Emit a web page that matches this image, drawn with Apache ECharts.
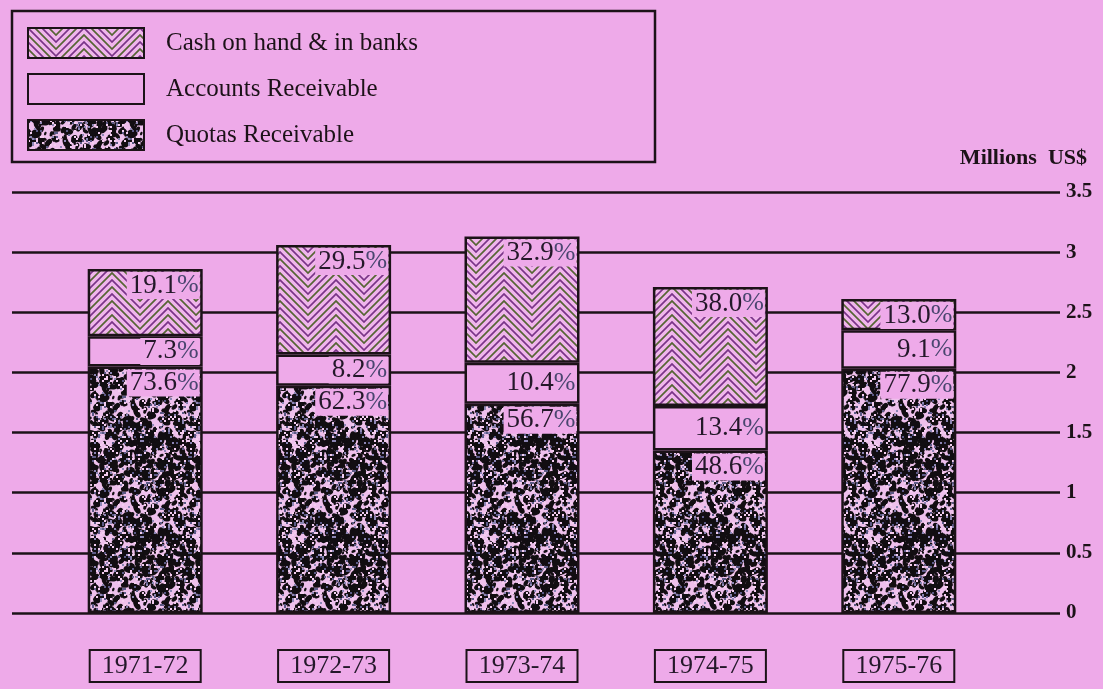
<!DOCTYPE html>
<html>
<head>
<meta charset="utf-8">
<script src="https://cdn.jsdelivr.net/npm/echarts@6/dist/echarts.min.js"></script>
<style>
html, body { margin: 0; padding: 0; background: #eeaae9; }
#chart { width: 1103px; height: 689px; }
</style>
</head>
<body>
<div id="chart"></div>
<script>
var years = ['1971-72', '1972-73', '1973-74', '1974-75', '1975-76'];
// millions US$
var quotas = [2.05, 1.89, 1.74, 1.35, 2.03];
var accounts = [0.25, 0.26, 0.34, 0.37, 0.32];
var cash = [0.56, 0.91, 1.05, 0.99, 0.26];
// printed percentages
var quotasPct = ['73.6', '62.3', '56.7', '48.6', '77.9'];
var accountsPct = ['7.3', '8.2', '10.4', '13.4', '9.1'];
var cashPct = ['19.1', '29.5', '32.9', '38.0', '13.0'];
var yTicks = [0, 0.5, 1, 1.5, 2, 2.5, 3, 3.5];

var pink = '#eeaae9';
var ink = '#1c1218';

function zigzagPattern() {
    var c = document.createElement('canvas');
    var w = 56, step = 7;
    c.width = w;
    c.height = step * 2;
    var ctx = c.getContext('2d');
    ctx.fillStyle = '#f0b6ec';
    ctx.fillRect(0, 0, c.width, c.height);
    ctx.lineWidth = 1.7;
    for (var k = -10; k <= 4; k++) {
        var y0 = k * step;
        ctx.strokeStyle = (k % 2 === 0) ? '#7a3488' : '#566534';
        ctx.beginPath();
        ctx.moveTo(-1, y0 - 1);
        ctx.lineTo(w / 2, y0 + w / 2);
        ctx.lineTo(w + 1, y0 - 1);
        ctx.stroke();
    }
    return { image: c, repeat: 'repeat' };
}

function speckPattern() {
    var c = document.createElement('canvas');
    c.width = 96;
    c.height = 96;
    var ctx = c.getContext('2d');
    ctx.fillStyle = '#eec0ec';
    ctx.fillRect(0, 0, 96, 96);
    var seed = 4242;
    function rnd() {
        seed = (seed * 1103515245 + 12345) % 2147483648;
        return seed / 2147483648;
    }
    var i, x, y;
    for (i = 0; i < 520; i++) {
        x = rnd() * 96;
        y = rnd() * 96;
        var r = 1.2 + rnd() * 2.6;
        ctx.fillStyle = '#120e12';
        for (var dx = -96; dx <= 96; dx += 96) {
            for (var dy = -96; dy <= 96; dy += 96) {
                ctx.beginPath();
                ctx.ellipse(x + dx, y + dy, r * 1.3, r * 0.8, rnd() * 3, 0, Math.PI * 2);
                ctx.fill();
            }
        }
    }
    for (i = 0; i < 420; i++) {
        x = Math.floor(rnd() * 48) * 2;
        y = Math.floor(rnd() * 48) * 2;
        var t = rnd();
        ctx.fillStyle = t < 0.45 ? '#f3cdf0' : (t < 0.75 ? '#8c86b4' : '#5c5a86');
        ctx.fillRect(x, y, 2, 2);
    }
    return { image: c, repeat: 'repeat' };
}

var labelRich = {
    n: { fontFamily: 'Liberation Serif', fontSize: 27, color: '#24182a' },
    p: { fontFamily: 'Liberation Serif', fontSize: 26, color: '#4a4670' }
};

function pctLabel(list, pos) {
    return {
        show: true,
        position: pos,
        distance: 3,
        backgroundColor: pink,
        padding: [0, 1, 0, 3],
        formatter: function (p) {
            return '{n|' + list[p.dataIndex] + '}{p|%}';
        },
        rich: labelRich
    };
}

var echart = echarts.init(document.getElementById('chart'));

var option = {
    backgroundColor: pink,
    animation: false,
    title: {
        text: 'Millions  US$',
        right: 11,
        top: 142,
        textStyle: { fontFamily: 'Liberation Serif', fontSize: 22, fontWeight: 'bold', color: ink }
    },
    legend: {
        data: ['Cash on hand & in banks', 'Accounts Receivable', 'Quotas Receivable'],
        orient: 'vertical',
        left: 27,
        top: 27,
        padding: 0,
        itemWidth: 116,
        itemHeight: 30,
        itemGap: 14,
        icon: 'rect',
        selectedMode: false,
        textStyle: { fontFamily: 'Liberation Serif', fontSize: 25, color: ink, padding: [6, 0, 0, 17] }
    },
    graphic: [{
        type: 'rect',
        shape: { x: 12, y: 11, width: 643, height: 151 },
        style: { fill: null, stroke: ink, lineWidth: 2.5 }
    }],
    grid: [
        { left: 12, right: 43, top: 192, bottom: 76 },
        { left: 51, right: 110, top: 192, bottom: 76 }
    ],
    xAxis: [
        { type: 'category', gridIndex: 0, show: false, data: [''] },
        {
            type: 'category',
            gridIndex: 1,
            data: years,
            axisLine: { show: false },
            axisTick: { show: false },
            axisLabel: {
                margin: 37,
                width: 111,
                height: 32,
                lineHeight: 32,
                align: 'center',
                borderColor: ink,
                borderWidth: 2,
                fontFamily: 'Liberation Serif',
                fontSize: 26,
                color: '#24182a'
            }
        }
    ],
    yAxis: [
        {
            type: 'value',
            gridIndex: 0,
            position: 'right',
            min: yTicks[0],
            max: yTicks[yTicks.length - 1],
            interval: 0.5,
            axisLine: { show: false },
            axisTick: { show: false },
            splitLine: { lineStyle: { color: ink, width: 2.5 } },
            axisLabel: {
                margin: 6,
                fontFamily: 'Liberation Serif',
                fontSize: 21,
                fontWeight: 'bold',
                color: ink,
                verticalAlign: 'middle',
                padding: [0, 0, 9, 0]
            }
        },
        {
            type: 'value',
            gridIndex: 1,
            min: yTicks[0],
            max: yTicks[yTicks.length - 1],
            show: false
        }
    ],
    series: [
        {
            name: 'Quotas Receivable',
            type: 'bar',
            stack: 'total',
            xAxisIndex: 1,
            yAxisIndex: 1,
            barWidth: 115,
            data: quotas,
            itemStyle: { color: speckPattern(), borderColor: ink, borderWidth: 2.5 },
            label: pctLabel(quotasPct, 'insideTopRight')
        },
        {
            name: 'Accounts Receivable',
            type: 'bar',
            stack: 'total',
            xAxisIndex: 1,
            yAxisIndex: 1,
            barWidth: 115,
            data: accounts,
            itemStyle: { color: pink, borderColor: ink, borderWidth: 2.5 },
            label: pctLabel(accountsPct, 'insideRight')
        },
        {
            name: 'Cash on hand & in banks',
            type: 'bar',
            stack: 'total',
            xAxisIndex: 1,
            yAxisIndex: 1,
            barWidth: 115,
            data: cash,
            itemStyle: { color: zigzagPattern(), borderColor: ink, borderWidth: 2.5 },
            label: pctLabel(cashPct, 'insideTopRight')
        }
    ]
};
echart.setOption(option);
</script>
</body>
</html>
